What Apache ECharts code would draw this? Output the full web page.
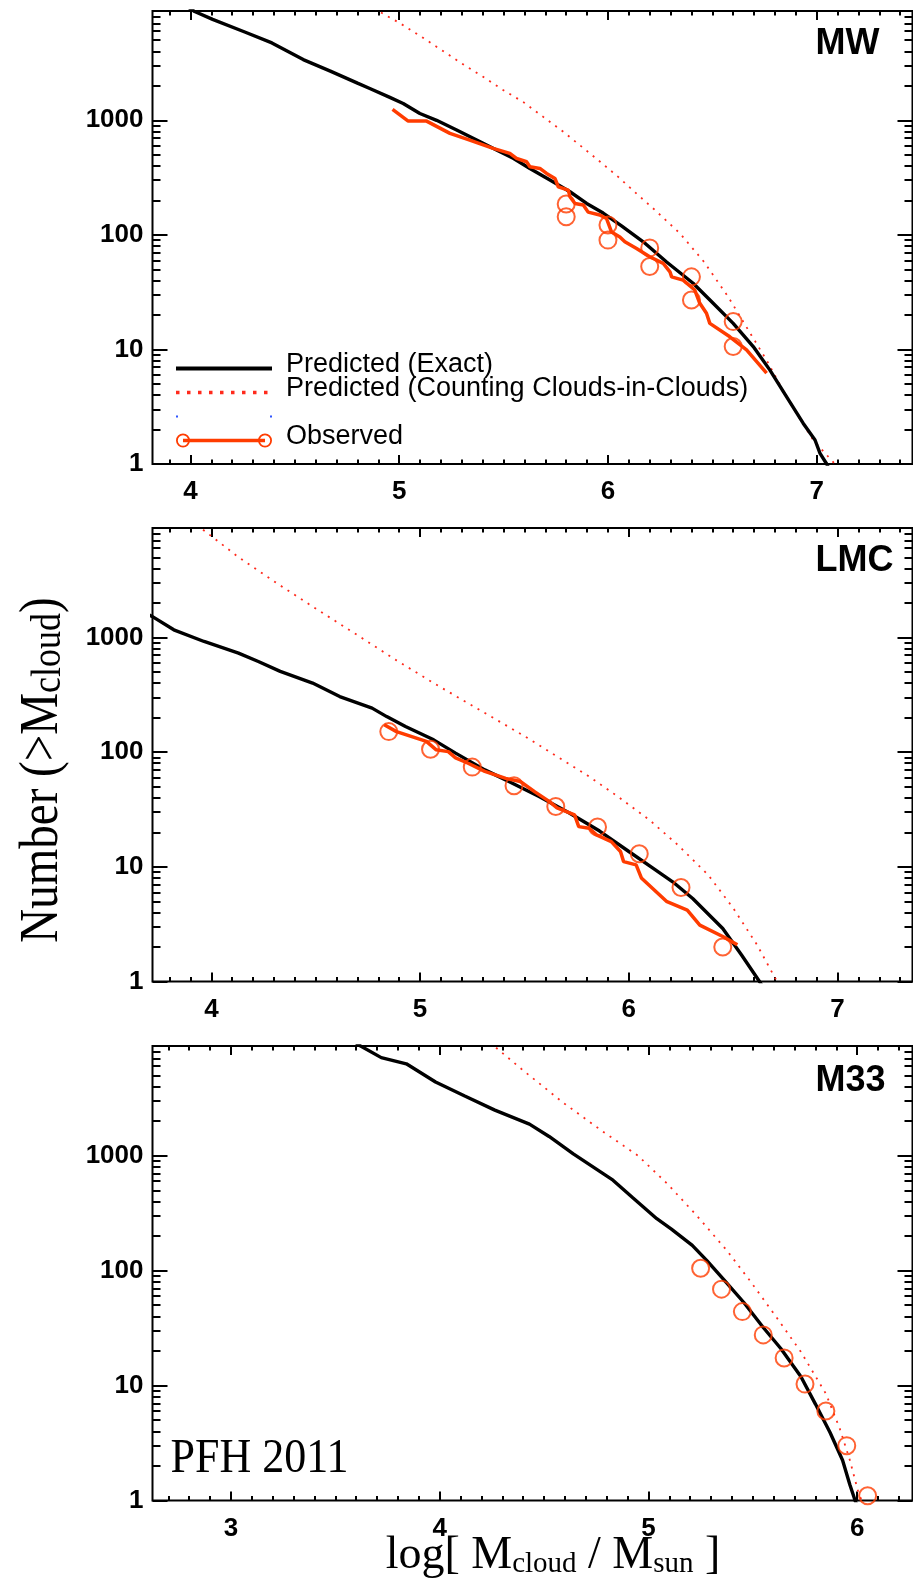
<!DOCTYPE html>
<html>
<head>
<meta charset="utf-8">
<title>Cloud mass functions</title>
<script src="https://cdn.jsdelivr.net/npm/echarts@6/dist/echarts.min.js"></script>
<style>
    html, body { margin: 0; padding: 0; background: #fff; }
    #chart { width: 913px; height: 1578px; }
</style>
</head>
<body>
<div id="chart"></div>
<script>
// x = log10(M_cloud / M_sun), y = number of clouds above that mass

// MW panel
const mwExact = [[3.99, 9700], [4.02, 8900], [4.106, 7600], [4.26, 5900], [4.39, 4740], [4.54, 3390], [4.67, 2690], [4.80, 2110], [4.859, 1897], [4.955, 1585], [5.019, 1403], [5.099, 1148], [5.179, 1000], [5.275, 822], [5.371, 672], [5.466, 550], [5.546, 466], [5.626, 380], [5.722, 301], [5.818, 238], [5.898, 188], [5.977, 155], [6.065, 120], [6.169, 87], [6.281, 58], [6.408, 37.8], [6.504, 25.3], [6.6, 16.9], [6.696, 10.6], [6.776, 6.6], [6.856, 3.86], [6.935, 2.27], [6.992, 1.62], [7.016, 1.24], [7.048, 1.0], [7.06, 0.9]];
const mwCiC = [[4.88, 9500], [4.907, 8850], [5.005, 7015], [5.107, 5358], [5.203, 4102], [5.299, 3141], [5.402, 2399], [5.498, 1837], [5.594, 1445], [5.69, 1072], [5.786, 794], [5.874, 589], [5.961, 437], [6.049, 321], [6.137, 229], [6.217, 170], [6.345, 103], [6.46, 58.2], [6.576, 28.8], [6.672, 14.8], [6.76, 8.07], [6.864, 3.61], [6.983, 1.62], [7.087, 1.0], [7.1, 0.9]];
const mwObsLine = [[4.968, 1245], [5.043, 984], [5.131, 984], [5.243, 769], [5.338, 672], [5.45, 569], [5.53, 514], [5.562, 466], [5.61, 435], [5.626, 393], [5.674, 380], [5.706, 344], [5.746, 311], [5.762, 263], [5.81, 246], [5.818, 215], [5.842, 188], [5.882, 182], [5.905, 158], [5.961, 149], [5.993, 139], [6.017, 106], [6.057, 96], [6.081, 87], [6.137, 76], [6.2, 64.5], [6.265, 56.4], [6.297, 47.6], [6.305, 43], [6.36, 40.3], [6.416, 33], [6.44, 25.3], [6.472, 20.7], [6.488, 16.9], [6.584, 12.9], [6.664, 9.9], [6.76, 6.2]];
const mwObsPts = [[5.8, 186], [5.8, 144], [6.0, 122], [6.0, 90], [6.2, 77], [6.2, 53], [6.4, 43], [6.4, 27], [6.6, 17.5], [6.6, 10.6]];

// LMC panel
const lmcExact = [[3.70, 1580], [3.716, 1525], [3.82, 1166], [3.965, 922], [4.13, 730], [4.225, 617], [4.33, 506], [4.485, 400], [4.615, 305], [4.77, 242], [4.84, 204], [4.93, 167], [5.065, 128], [5.17, 98], [5.31, 70], [5.43, 55], [5.57, 41], [5.715, 29.5], [5.86, 20.5], [6.0, 13.6], [6.117, 9.7], [6.21, 7.4], [6.306, 5.3], [6.45, 2.9], [6.54, 1.7], [6.626, 1.0], [6.65, 0.85]];
const lmcCiC = [[3.93, 9600], [3.953, 8900], [4.13, 5012], [4.32, 2917], [4.51, 1738], [4.70, 1047], [4.887, 631], [5.076, 389], [5.265, 245], [5.5, 138], [5.65, 93], [5.8, 63], [5.95, 40.7], [6.1, 25.5], [6.235, 15.5], [6.38, 8.5], [6.5, 4.37], [6.614, 2.09], [6.71, 1.0], [6.73, 0.85]];
const lmcObsLine = [[4.828, 173], [4.887, 151], [5.03, 124], [5.076, 105], [5.135, 101], [5.17, 89], [5.23, 80], [5.31, 68], [5.41, 59], [5.48, 55.5], [5.55, 45], [5.62, 37], [5.656, 32.6], [5.74, 28.4], [5.76, 22.4], [5.81, 21.7], [5.845, 19], [5.916, 16.6], [5.96, 13.6], [5.975, 11.1], [6.035, 10.4], [6.06, 8.0], [6.18, 5.0], [6.28, 4.2], [6.34, 3.1], [6.45, 2.47], [6.52, 2.09]];
const lmcObsPts = [[4.85, 151], [5.05, 106], [5.25, 74], [5.45, 51], [5.65, 33.6], [5.85, 22.2], [6.05, 13], [6.25, 6.6], [6.45, 2.0]];

// M33 panel
const m33Exact = [[3.60, 9500], [3.621, 9000], [3.72, 7130], [3.84, 6300], [3.98, 4370], [4.12, 3300], [4.264, 2490], [4.43, 1880], [4.524, 1470], [4.64, 1037], [4.83, 612], [4.925, 431], [5.04, 283], [5.11, 230], [5.21, 166], [5.28, 122], [5.362, 83], [5.457, 52.8], [5.55, 32], [5.634, 21], [5.73, 12], [5.80, 6.9], [5.87, 3.9], [5.93, 2.24], [5.965, 1.37], [5.99, 1.0], [6.0, 0.9]];
const m33CiC = [[4.24, 9600], [4.26, 9000], [4.406, 5400], [4.595, 2860], [4.78, 1630], [4.95, 1000], [5.09, 571], [5.23, 303], [5.374, 151], [5.49, 80], [5.61, 40], [5.73, 19.7], [5.85, 8.5], [5.917, 4.2], [5.965, 2.24], [6.01, 1.1], [6.024, 1.0], [6.03, 0.9]];
const m33ObsPts = [[5.25, 105], [5.35, 69], [5.45, 44], [5.55, 27.6], [5.65, 17.4], [5.75, 10.3], [5.85, 6.0], [5.95, 3.0], [6.05, 1.1]];

// axes
const panelNames = ['MW', 'LMC', 'M33'];
const xRanges = [[3.818, 7.459], [3.718, 7.359], [2.624, 6.265]];
const xMajor = [[4, 5, 6, 7], [4, 5, 6, 7], [3, 4, 5, 6]];
const yMajor = [1, 10, 100, 1000];
const yMinor = [2, 3, 4, 5, 6, 7, 8, 9, 20, 30, 40, 50, 60, 70, 80, 90, 200, 300, 400, 500, 600, 700, 800, 900, 2000, 3000, 4000, 5000, 6000, 7000, 8000];
const yMin = 1, yMax = 9000;

const gridTop = [11, 528, 1046];
const gridHeight = [453, 453.5, 454.5];

const BLACK = '#000000';
const CIC_RED = '#ff2a1c';
const OBS = '#ff3c00';
const SANS = 'Liberation Sans';
const SERIF = 'Liberation Serif';

function xMinor(range) {
    let out = [];
    for (let k = Math.ceil(range[0] * 10); k <= Math.floor(range[1] * 10); k++) {
        if (k % 10 !== 0) out.push(k / 10);
    }
    return out;
}

function tick(len, values) {
    return { show: true, inside: true, length: len, customValues: values, lineStyle: { color: BLACK, width: 2 } };
}

let grids = [], xAxes = [], yAxes = [];
for (let g = 0; g < 3; g++) {
    grids.push({
        left: 152.5, right: 0.5, top: gridTop[g], height: gridHeight[g],
        show: true, borderColor: BLACK, borderWidth: 2, backgroundColor: 'transparent'
    });
    const xBase = {
        gridIndex: g, type: 'value', min: xRanges[g][0], max: xRanges[g][1],
        axisLine: { show: false, onZero: false }, splitLine: { show: false }
    };
    xAxes.push(Object.assign({}, xBase, {
        position: 'bottom', axisTick: tick(9, xMajor[g]),
        axisLabel: {
            customValues: xMajor[g], margin: 15, color: BLACK,
            fontFamily: SANS, fontWeight: 'bold', fontSize: 26,
            formatter: v => String(Math.round(v))
        }
    }));
    xAxes.push(Object.assign({}, xBase, { position: 'top', axisTick: tick(9, xMajor[g]), axisLabel: { show: false } }));
    xAxes.push(Object.assign({}, xBase, { position: 'bottom', axisTick: tick(4.5, xMinor(xRanges[g])), axisLabel: { show: false } }));
    xAxes.push(Object.assign({}, xBase, { position: 'top', axisTick: tick(4.5, xMinor(xRanges[g])), axisLabel: { show: false } }));

    const yBase = {
        gridIndex: g, type: 'log', logBase: 10, min: yMin, max: yMax,
        axisLine: { show: false, onZero: false }, splitLine: { show: false }
    };
    yAxes.push(Object.assign({}, yBase, {
        position: 'left', axisTick: tick(15, yMajor),
        axisLabel: {
            customValues: yMajor, margin: 9, color: BLACK,
            fontFamily: SANS, fontWeight: 'bold', fontSize: 26,
            formatter: v => String(Math.round(v))
        }
    }));
    yAxes.push(Object.assign({}, yBase, { position: 'right', axisTick: tick(15, yMajor), axisLabel: { show: false } }));
    yAxes.push(Object.assign({}, yBase, { position: 'left', axisTick: tick(8, yMinor), axisLabel: { show: false } }));
    yAxes.push(Object.assign({}, yBase, { position: 'right', axisTick: tick(8, yMinor), axisLabel: { show: false } }));
}

function lineSeries(name, g, data, style, z) {
    return {
        name: name, type: 'line', xAxisIndex: g * 4, yAxisIndex: g * 4,
        data: data, symbol: 'none', showSymbol: false, clip: true,
        lineStyle: style, z: z, silent: true
    };
}

function circles(g, data) {
    return {
        name: 'Observed', type: 'scatter', xAxisIndex: g * 4, yAxisIndex: g * 4,
        data: data, symbol: 'circle', symbolSize: 17, z: 5, silent: true,
        itemStyle: { color: 'rgba(0,0,0,0)', borderColor: OBS, borderWidth: 2 }
    };
}

const exactStyle = { color: BLACK, width: 3.4 };
const cicStyle = { color: CIC_RED, width: 1.8, type: [2, 6] };
const obsStyle = { color: OBS, width: 3.5 };

let series = [
    lineSeries('Predicted (Exact)', 0, mwExact, exactStyle, 3),
    lineSeries('Predicted (Counting Clouds-in-Clouds)', 0, mwCiC, cicStyle, 2),
    lineSeries(' ', 0, [], { color: '#2f55ff', width: 2, type: [2, 92] }, 2),
    lineSeries('Observed', 0, mwObsLine, obsStyle, 4),
    circles(0, mwObsPts),

    lineSeries('Predicted (Exact)', 1, lmcExact, exactStyle, 3),
    lineSeries('Predicted (Counting Clouds-in-Clouds)', 1, lmcCiC, cicStyle, 2),
    lineSeries('Observed', 1, lmcObsLine, obsStyle, 4),
    circles(1, lmcObsPts),

    lineSeries('Predicted (Exact)', 2, m33Exact, exactStyle, 3),
    lineSeries('Predicted (Counting Clouds-in-Clouds)', 2, m33CiC, cicStyle, 2),
    circles(2, m33ObsPts)
];

// two open circles joined by a bar, as in the original key
const obsIcon = 'path://M0,7 A7,7 0 1,0 14,7 A7,7 0 1,0 0,7 Z M1.8,7 A5.2,5.2 0 1,1 12.2,7 A5.2,5.2 0 1,1 1.8,7 Z ' +
    'M82,7 A7,7 0 1,0 96,7 A7,7 0 1,0 82,7 Z M83.8,7 A5.2,5.2 0 1,1 94.2,7 A5.2,5.2 0 1,1 83.8,7 Z ' +
    'M7,5.3 L7,8.7 L89,8.7 L89,5.3 Z';

const legend = {
    left: 174, top: 351, orient: 'vertical', padding: 0,
    itemWidth: 96, itemHeight: 14, itemGap: -3, selectedMode: false,
    formatter: name => '{t|' + name + '}',
    textStyle: {
        fontFamily: SANS, fontSize: 27, color: BLACK,
        rich: { t: { fontFamily: SANS, fontSize: 27, color: BLACK, padding: [0, 0, 8, 9] } }
    },
    data: [
        { name: 'Predicted (Exact)', itemStyle: { opacity: 0 }, lineStyle: { width: 4 } },
        { name: 'Predicted (Counting Clouds-in-Clouds)', itemStyle: { opacity: 0 }, lineStyle: { width: 3.5, type: [3.5, 7.5] } },
        { name: ' ', itemStyle: { opacity: 0 }, lineStyle: { width: 2 } },
        { name: 'Observed', icon: obsIcon, itemStyle: { color: OBS, borderWidth: 0 } }
    ]
};

let graphics = [];
const titleY = [44, 561, 1081];
for (let g = 0; g < 3; g++) {
    graphics.push({
        type: 'text', x: 815.5, y: titleY[g], silent: true,
        style: { text: panelNames[g], fill: BLACK, fontFamily: SANS, fontWeight: 'bold', fontSize: 36, align: 'left', verticalAlign: 'middle' }
    });
}
graphics.push({
    type: 'text', x: 170.5, y: 1460, scaleY: 1.08, silent: true,
    style: { text: 'PFH 2011', fill: BLACK, fontFamily: SERIF, fontSize: 44, align: 'left', verticalAlign: 'middle' }
});
graphics.push({
    type: 'text', x: 553, y: 1556, silent: true,
    style: {
        text: '{m|log[ M}{s|cloud}{m| / M}{s|sun}{m| ]}', fill: BLACK, align: 'center', verticalAlign: 'middle',
        rich: {
            m: { fontFamily: SERIF, fontSize: 46, fill: BLACK },
            s: { fontFamily: SERIF, fontSize: 29, fill: BLACK, verticalAlign: 'bottom' }
        }
    }
});
graphics.push({
    type: 'text', x: 43, y: 770, rotation: Math.PI / 2, scaleY: 1.15, silent: true,
    style: {
        text: '{m|Number (>M}{s|cloud}{m|)}', fill: BLACK, align: 'center', verticalAlign: 'middle',
        rich: {
            m: { fontFamily: SERIF, fontSize: 47, fill: BLACK },
            s: { fontFamily: SERIF, fontSize: 36, fill: BLACK, verticalAlign: 'bottom' }
        }
    }
});

const chart = echarts.init(document.getElementById('chart'), null, { renderer: 'canvas', width: 913, height: 1578 });
chart.setOption({
    animation: false,
    backgroundColor: '#ffffff',
    grid: grids,
    xAxis: xAxes,
    yAxis: yAxes,
    legend: legend,
    series: series,
    graphic: graphics
});
</script>
</body>
</html>
